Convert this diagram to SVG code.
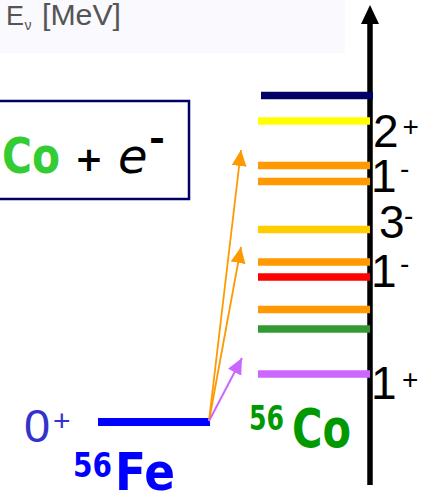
<svg xmlns="http://www.w3.org/2000/svg" width="428" height="495" viewBox="0 0 428 495">
<defs>
<style>
.lvl{stroke-width:7.5;fill:none}
.sp{font-family:"Liberation Sans",Arial,sans-serif;fill:#000}
.big{font-size:46px}
.sup{font-size:28px}
.cm{font-family:"DejaVu Sans",sans-serif;font-weight:bold}
</style>
<marker id="hO" markerUnits="userSpaceOnUse" markerWidth="17" markerHeight="16" refX="16" refY="7.5" orient="auto"><path d="M0,0 L16,7.5 L0,15 Z" fill="#FF9900"/></marker>
<marker id="hP" markerUnits="userSpaceOnUse" markerWidth="17" markerHeight="16" refX="16" refY="7.5" orient="auto"><path d="M0,0 L16,7.5 L0,15 Z" fill="#CC66FF"/></marker>
</defs>
<rect x="0" y="0" width="345" height="53" fill="#F9F9FE"/>
<g id="axis-title">
<text class="sp" x="6" y="25" font-size="27" style="fill:#555">E<tspan x="24.5" y="30" font-size="14">ν</tspan><tspan x="42" y="25" font-size="29" textLength="79" lengthAdjust="spacingAndGlyphs">[MeV]</tspan></text>
</g>
<g id="axis">
<line x1="370" y1="22" x2="370" y2="485" stroke="#000" stroke-width="5.5"/>
<polygon points="361,24 370,5 379,24" fill="#000"/>
</g>
<g id="reaction-box">
<rect x="-4" y="101" width="193" height="98" fill="#fff" stroke="#000066" stroke-width="2.5"/>
<text class="cm" x="2" y="173" font-size="50" fill="#33CC33" textLength="58" lengthAdjust="spacingAndGlyphs">Co</text>
<text class="cm" x="89" y="171" font-size="34" fill="#000" text-anchor="middle">+</text>
<text x="118" y="173" font-family="DejaVu Sans,sans-serif" font-style="italic" font-size="48" fill="#000">e</text>
<text class="cm" x="149" y="151" font-size="36" fill="#000" textLength="16" lengthAdjust="spacingAndGlyphs">-</text>
</g>
<g id="fe-level">
<line x1="98" y1="422" x2="210" y2="422" stroke="#0000FF" stroke-width="8"/>
<text class="sp" x="24" y="442" font-size="47" style="fill:#3333CC">0<tspan x="53" y="431" font-size="30">+</tspan></text>
<text class="cm" x="73" y="477" font-size="34" fill="#0000FF"><tspan textLength="39" lengthAdjust="spacingAndGlyphs">56</tspan><tspan x="115" y="490" font-size="51" textLength="60" lengthAdjust="spacingAndGlyphs">Fe</tspan></text>
</g>
<g id="co-levels">
<line class="lvl" x1="261" y1="95.5" x2="373" y2="95.5" stroke="#000066"/>
<line class="lvl" x1="258" y1="121" x2="370" y2="121" stroke="#FFFF00"/>
<line class="lvl" x1="258" y1="165.5" x2="370" y2="165.5" stroke="#FF9900"/>
<line class="lvl" x1="258" y1="181.5" x2="370" y2="181.5" stroke="#FF9900"/>
<line class="lvl" x1="258" y1="229.5" x2="370" y2="229.5" stroke="#FFCC00"/>
<line class="lvl" x1="258" y1="262" x2="370" y2="262" stroke="#FF9900"/>
<line class="lvl" x1="258" y1="277" x2="370" y2="277" stroke="#FF0000"/>
<line class="lvl" x1="258" y1="309.5" x2="370" y2="309.5" stroke="#FF9900"/>
<line class="lvl" x1="258" y1="329" x2="370" y2="329" stroke="#339933"/>
<line class="lvl" x1="258" y1="374" x2="370" y2="374" stroke="#CC66FF"/>
<text class="cm" x="249" y="430" font-size="34" fill="#009900"><tspan textLength="35" lengthAdjust="spacingAndGlyphs">56</tspan><tspan x="292" y="447" font-size="54" textLength="59" lengthAdjust="spacingAndGlyphs">Co</tspan></text>
</g>
<g id="spin-labels">
<text class="sp big" x="373" y="147">2<tspan class="sup" x="402.5" y="136">+</tspan></text>
<text class="sp big" x="371" y="192">1<tspan class="sup" x="400" y="177.5">-</tspan></text>
<text class="sp big" x="379" y="238">3<tspan class="sup" x="404" y="224.5">-</tspan></text>
<text class="sp big" x="371" y="287">1<tspan class="sup" x="400" y="272.5">-</tspan></text>
<text class="sp big" x="371" y="399">1<tspan class="sup" x="402" y="389">+</tspan></text>
</g>
<g id="connectors">
<line x1="209" y1="421" x2="241" y2="150" stroke="#FF9900" stroke-width="1.8" marker-end="url(#hO)"/>
<line x1="209" y1="421" x2="241" y2="247" stroke="#FF9900" stroke-width="1.8" marker-end="url(#hO)"/>
<line x1="209" y1="421" x2="242" y2="358" stroke="#CC66FF" stroke-width="2" marker-end="url(#hP)"/>
</g>
</svg>
